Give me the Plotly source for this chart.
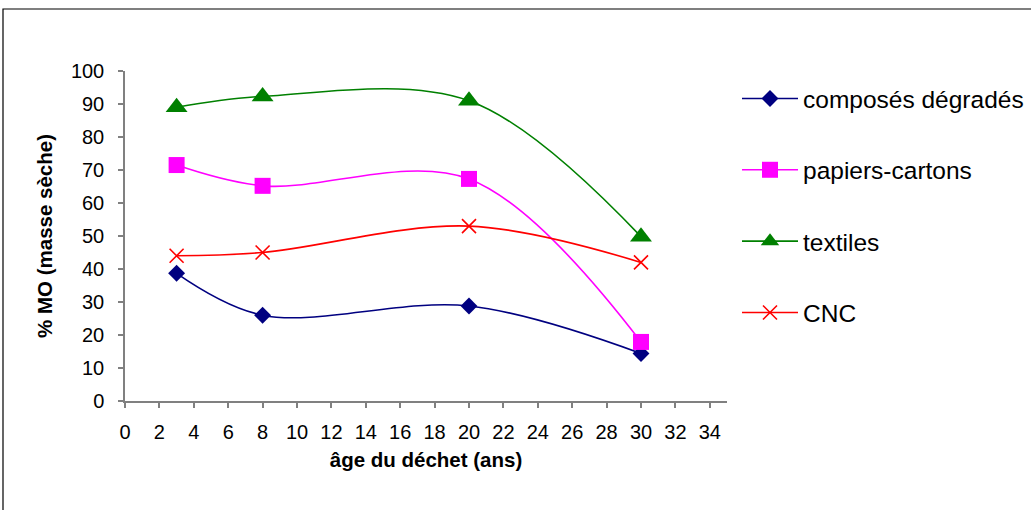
import plotly.graph_objects as go

ages = [3, 8, 20, 30]
composes_degrades = [38.7, 26.0, 28.8, 14.4]
papiers_cartons = [71.5, 65.2, 67.3, 17.9]
textiles = [89.0, 92.3, 91.0, 49.8]
cnc = [44.0, 45.0, 53.0, 42.0]

series_names = ["composés dégradés", "papiers-cartons", "textiles", "CNC"]
x_ticks = list(range(0, 35, 2))
y_ticks = list(range(0, 101, 10))

FONT = "Liberation Sans, Arial, sans-serif"

W, H = 1031, 510
L, R, T, B = 125, 727, 71, 401  # plot area pixels

fig = go.Figure()

styles = [
    (composes_degrades, "#000080", dict(symbol="diamond", size=13, color="#000080")),
    (papiers_cartons, "#FF00FF", dict(symbol="square", size=16, color="#FF00FF")),
    (textiles, "#008000", dict(symbol="triangle-up", size=19, color="#008000")),
    (cnc, "#FF0000", dict(symbol="x-thin-open", size=14, color="#FF0000",
                          line=dict(color="#FF0000", width=1.6))),
]

for i, (vals, col, mk) in enumerate(styles):
    fig.add_trace(go.Scatter(
        x=ages, y=vals, name=series_names[i],
        mode="lines+markers",
        line=dict(color=col, width=1.6, shape="spline", smoothing=1.0),
        marker=mk,
        legendgroup=f"g{i}",
    ))

def px_x(p):
    return (p - L) / (R - L)

def px_y(p):
    return (B - p) / (B - T)

fig.update_layout(
    width=W, height=H,
    margin=dict(l=L, r=W - R, t=T, b=H - B, autoexpand=False),
    paper_bgcolor="white", plot_bgcolor="white",
    font=dict(family=FONT, color="black", size=20),
    showlegend=True,
    legend=dict(
        x=px_x(737), y=px_y(76), xanchor="left", yanchor="top",
        font=dict(family=FONT, size=24.5, color="black"),
        tracegroupgap=36.5,
        itemwidth=56,
        bgcolor="rgba(0,0,0,0)",
    ),
    xaxis=dict(
        range=[0, 35], tickvals=x_ticks, ticktext=[str(v) for v in x_ticks],
        showgrid=False, zeroline=False,
        showline=True, linecolor="#808080", linewidth=1.5,
        ticks="outside", ticklen=5, tickcolor="#808080", tickwidth=1.5,
        ticklabelstandoff=7,
        tickfont=dict(family=FONT, size=20, color="black"),
        title=dict(text="<b>âge du déchet (ans)</b>", standoff=11,
                   font=dict(family=FONT, size=20.5, color="black")),
    ),
    yaxis=dict(
        range=[0, 100], tickvals=y_ticks, ticktext=[str(v) for v in y_ticks],
        showgrid=False, zeroline=False,
        showline=True, linecolor="#808080", linewidth=1.5,
        ticks="outside", ticklen=5, tickcolor="#808080", tickwidth=1.5,
        ticklabelstandoff=10,
        tickfont=dict(family=FONT, size=20, color="black"),
        title=dict(text="<b>% MO (masse sèche)</b>", standoff=13,
                   font=dict(family=FONT, size=20.5, color="black")),
    ),
    shapes=[dict(
        type="rect", xref="paper", yref="paper",
        x0=px_x(3), x1=px_x(1045), y0=px_y(520), y1=px_y(9),
        line=dict(color="black", width=1.2), fillcolor="rgba(0,0,0,0)",
        layer="below",
    )],
)

fig.write_html("out.html")
